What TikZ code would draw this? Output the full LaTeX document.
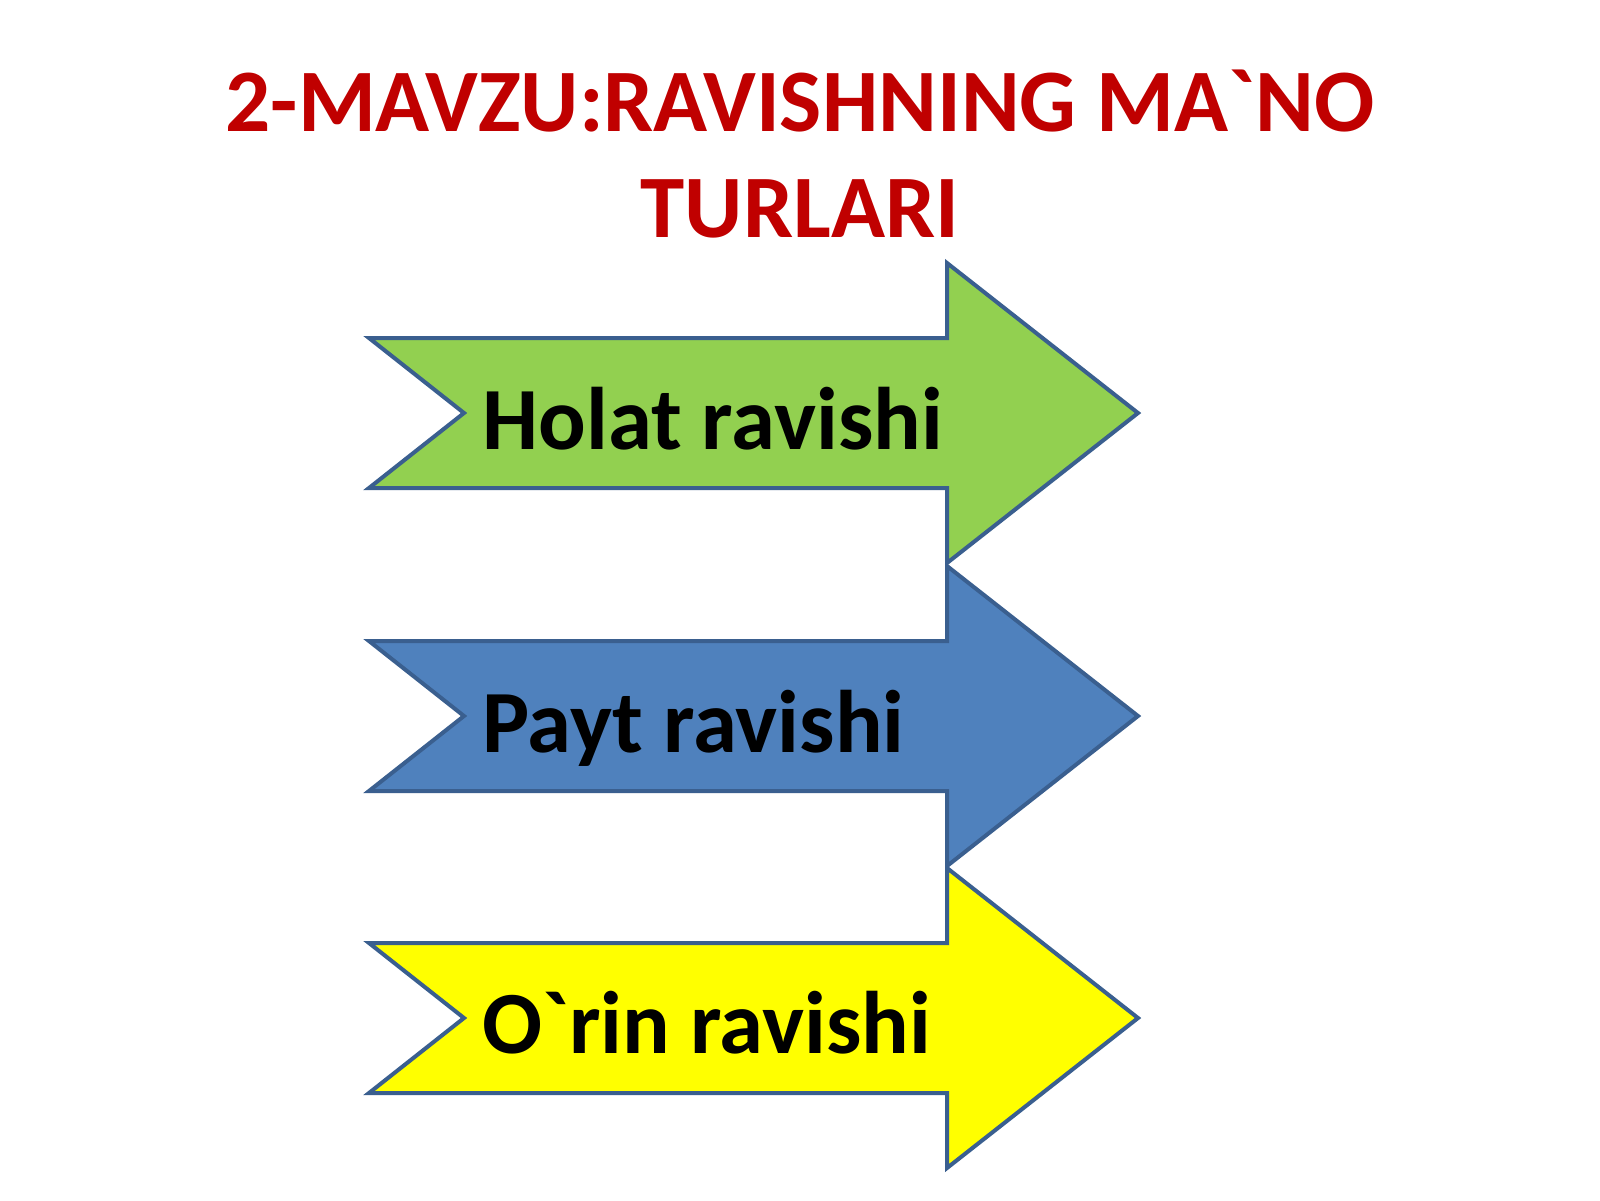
\documentclass[tikz,border=0pt]{standalone}
\usepackage{fontspec}
\setmainfont{Carlito}[Ligatures=TeXOff]
\definecolor{titlered}{HTML}{C00000}
\definecolor{edgeblue}{HTML}{3A5F8F}
\definecolor{agreen}{HTML}{92D050}
\definecolor{ablue}{HTML}{4F81BD}
\definecolor{ayellow}{HTML}{FFFF00}
\tikzset{
  arrowshape/.style={draw=edgeblue, line width=2pt, line join=miter},
  titletext/.style={text=titlered, font=\fontsize{44.6}{54}\selectfont\bfseries, inner sep=0pt},
  labeltext/.style={text=black, font=\fontsize{44.4}{54}\selectfont\bfseries, inner sep=0pt, anchor=base west},
}
\begin{document}
\begin{tikzpicture}[x=0.5pt,y=-0.5pt]
\useasboundingbox[fill=white] (0,0) rectangle (1600,1200);
% title
\node[titletext, anchor=base] (t1) at (800,131) {2-MAVZU:RAVISHNING MA`NO};
\node[titletext, anchor=base] (t2) at (800,237) {TURLARI};
% arrows
\foreach \cy/\col in {413/agreen, 716/ablue, 1018/ayellow}{
  \draw[arrowshape, fill=\col]
    (369,\cy-75) -- (947,\cy-75) -- (947,\cy-150) -- (1138,\cy)
    -- (947,\cy+150) -- (947,\cy+75) -- (369,\cy+75) -- (464,\cy) -- cycle;
}
\node[labeltext] (l1) at (482,449) {Holat ravishi};
\node[labeltext] (l2) at (482,752) {Payt ravishi};
\node[labeltext] (l3) at (482,1053) {O`rin ravishi};
\end{tikzpicture}
\end{document}
